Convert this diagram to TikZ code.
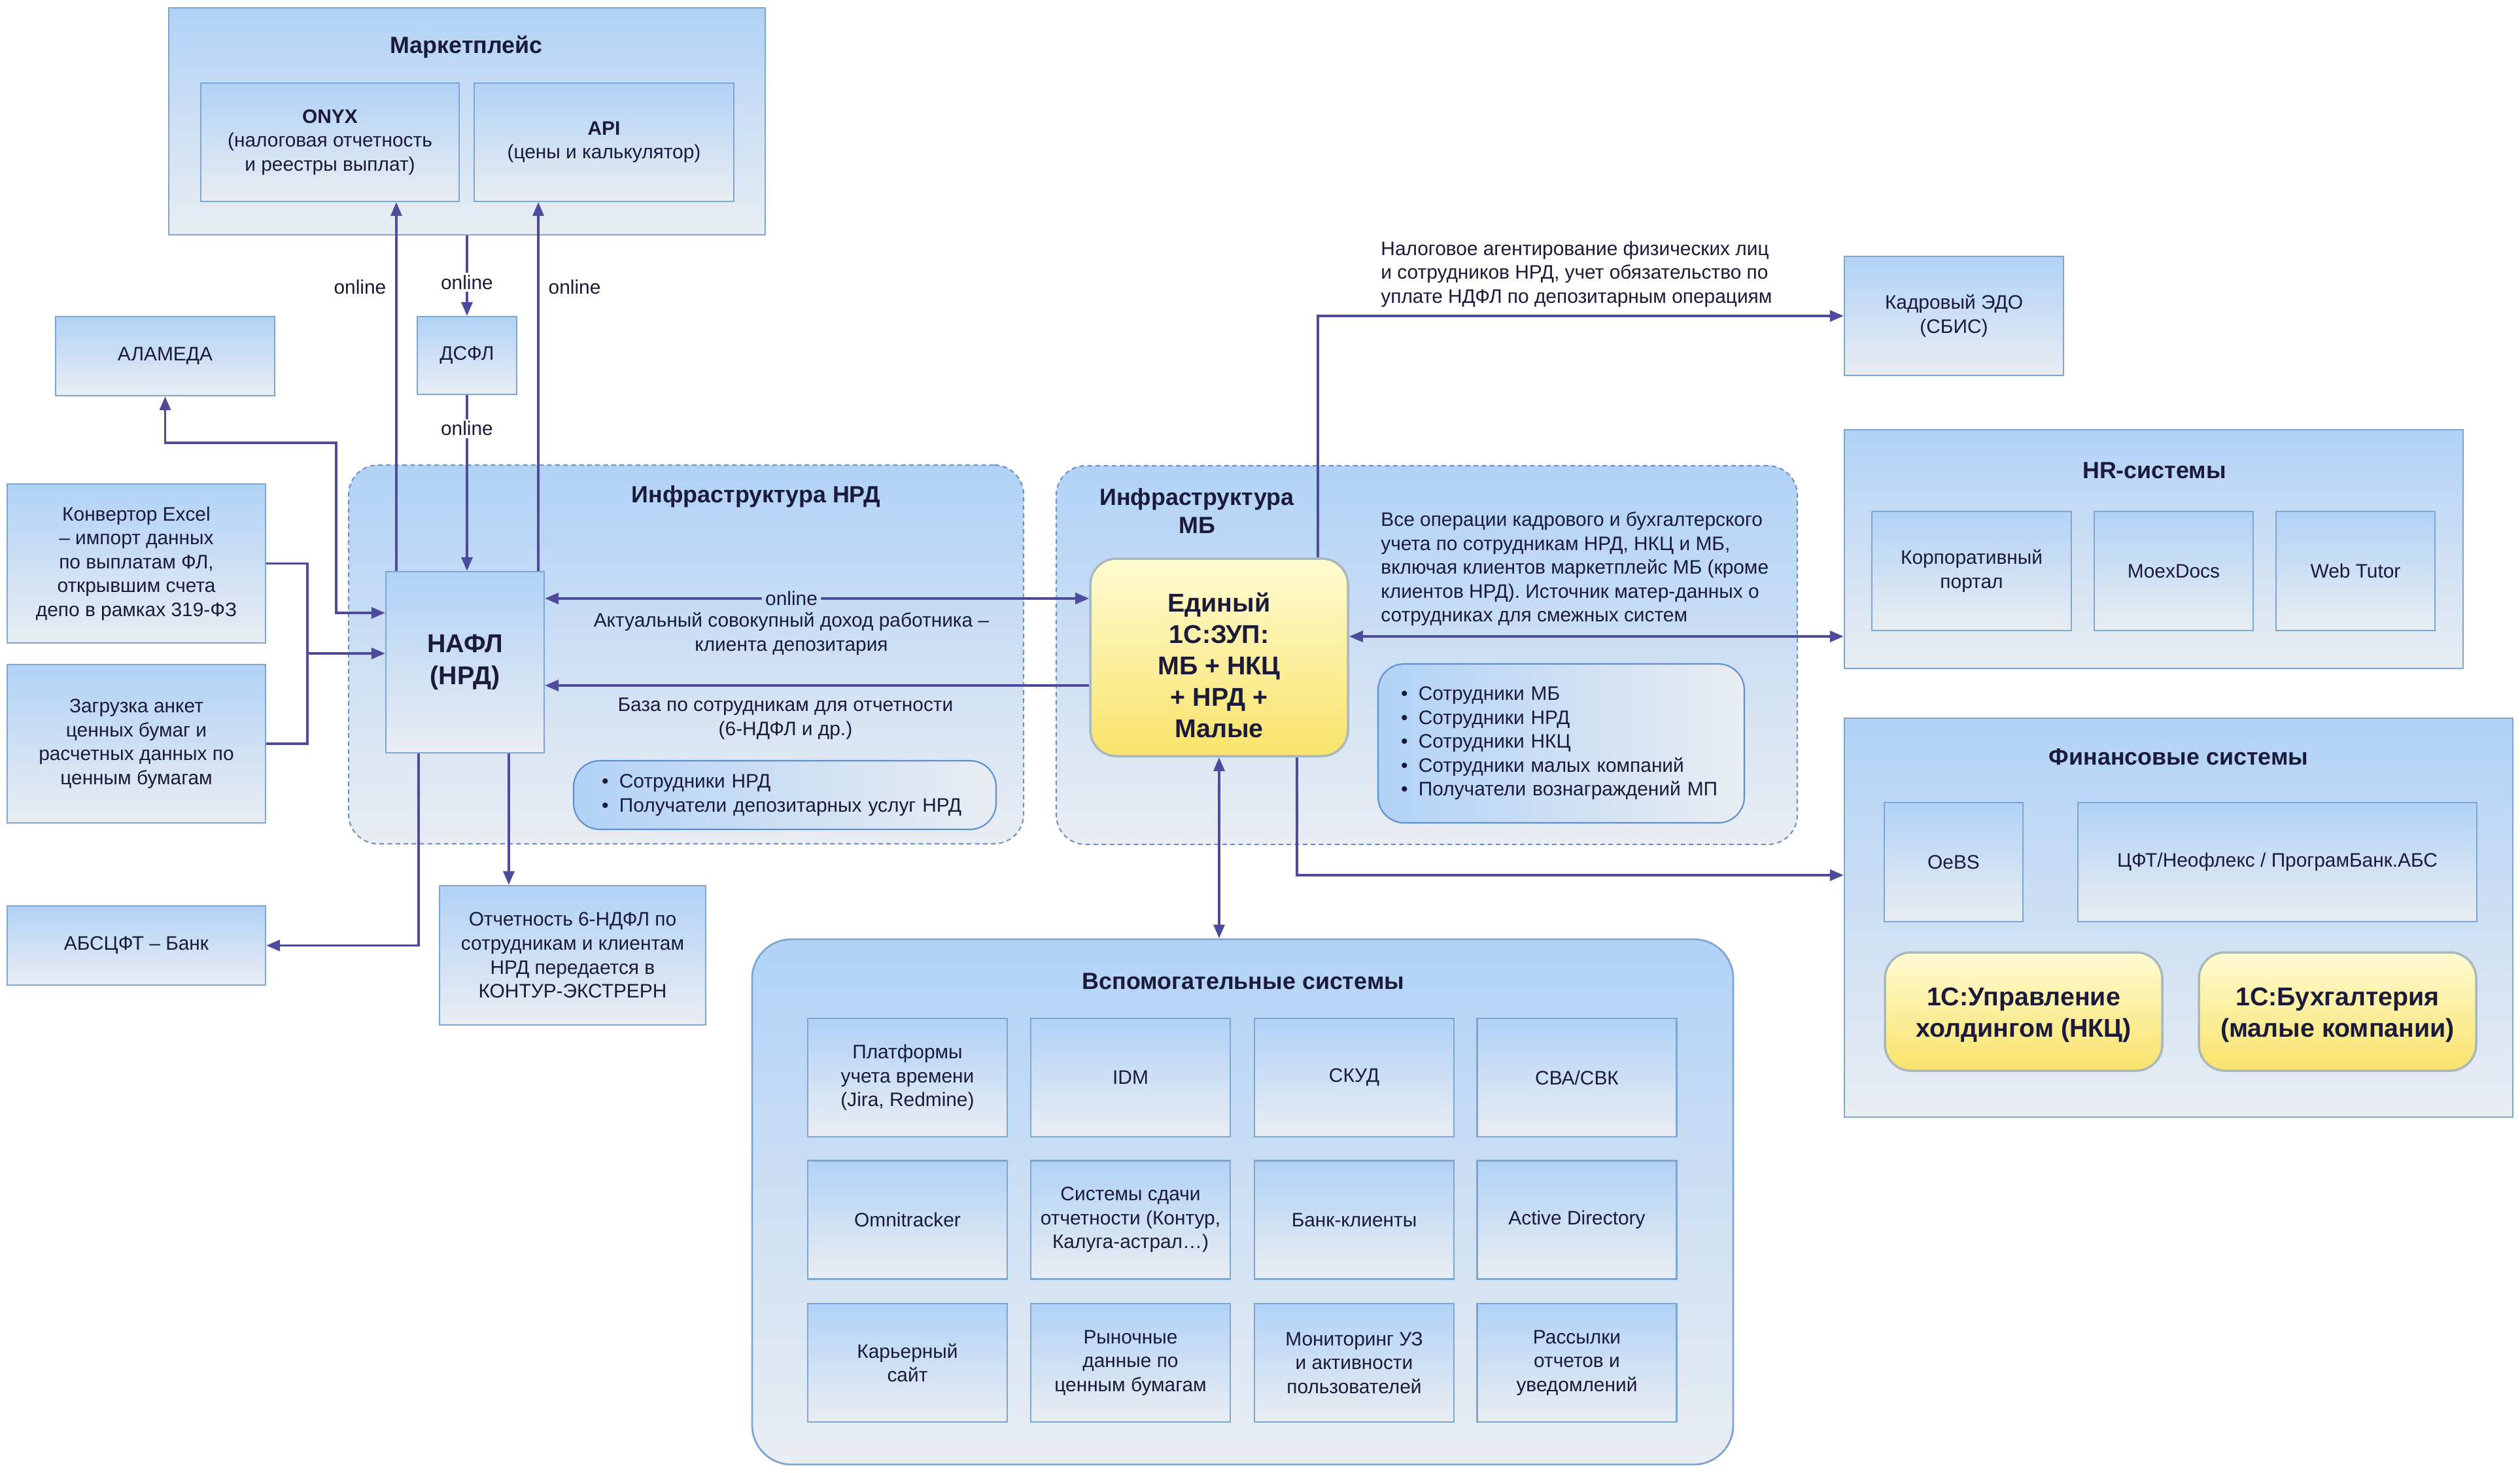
\documentclass[tikz,border=0pt]{standalone}
\usepackage{fontspec}
\setmainfont{Liberation Sans}
\usetikzlibrary{arrows.meta, positioning, calc}
\usepackage{xcolor}
\definecolor{boxtop}{RGB}{177,210,246}
\definecolor{boxbottom}{RGB}{233,237,242}
\definecolor{boxborder}{RGB}{126,166,211}
\definecolor{infraborder}{RGB}{109,147,192}
\definecolor{linkcolor}{RGB}{78,74,156}
\definecolor{textcolor}{RGB}{27,26,58}
\definecolor{zuptop}{RGB}{255,251,210}
\definecolor{zupbottom}{RGB}{248,227,106}
\definecolor{zupborder}{RGB}{169,184,189}
\definecolor{listborder}{RGB}{94,143,208}
\definecolor{onlinebg}{RGB}{197,220,245}

\begin{document}
\begin{tikzpicture}[
  % Node styles
  sysbox/.style={
    rectangle,
    draw=boxborder,
    line width=0.6pt,
    top color=boxtop,
    bottom color=boxbottom,
    align=center,
    text=textcolor,
    font=\fontsize{8.5}{10.4}\selectfont,
    inner sep=2pt
  },
  groupbox/.style={sysbox},
  infrabox/.style={
    rectangle,
    rounded corners=0.45cm,
    draw=infraborder,
    line width=0.6pt,
    dash pattern=on 2pt off 1.5pt,
    top color=boxtop,
    bottom color=boxbottom
  },
  auxbox/.style={
    rectangle,
    rounded corners=0.6cm,
    draw=boxborder,
    line width=0.8pt,
    top color=boxtop,
    bottom color=boxbottom
  },
  zupbox/.style={
    rectangle,
    rounded corners=0.4cm,
    draw=zupborder,
    line width=1pt,
    top color=zuptop,
    bottom color=zupbottom,
    align=center,
    text=textcolor,
    font=\fontsize{11.2}{13.7}\selectfont\bfseries
  },
  zuptext/.style={
    align=center,
    text=textcolor,
    font=\fontsize{11.2}{13.7}\selectfont\bfseries
  },
  listbox/.style={
    rectangle,
    rounded corners=0.4cm,
    draw=listborder,
    line width=0.6pt,
    left color=boxtop,
    right color=boxbottom,
    align=left,
    text=textcolor,
    font=\fontsize{8.5}{10.4}\selectfont
  },
  grouptitle/.style={
    align=center,
    text=textcolor,
    font=\fontsize{10.2}{12.4}\selectfont\bfseries
  },
  note/.style={
    align=center,
    text=textcolor,
    font=\fontsize{8.5}{10.4}\selectfont
  },
  online/.style={note, fill=white, inner sep=1pt},
  onlinetag/.style={note, fill=onlinebg, rounded corners=0.1cm, inner sep=1.5pt},
  arrow/.style={
    -{Triangle[length=6pt, width=4.8pt]},
    line width=1.1pt,
    draw=linkcolor
  },
  twoway/.style={
    {Triangle[length=6pt, width=4.8pt]}-{Triangle[length=6pt, width=4.8pt]},
    line width=1.1pt,
    draw=linkcolor
  },
  plainlink/.style={
    line width=1.1pt,
    draw=linkcolor
  }
]

\fill[white] (0,0) rectangle (38.53,-22.51);
\useasboundingbox (0,0) rectangle (38.53,-22.51);

% ===== CONTAINERS =====
\node[groupbox, minimum width=9.12cm, minimum height=3.47cm] (market) at (7.14,-1.855) {};
\node[infrabox, minimum width=10.32cm, minimum height=5.79cm] (nrd) at (10.49,-10.005) {};
\node[infrabox, minimum width=11.33cm, minimum height=5.79cm] (mb) at (21.815,-10.015) {};
\node[groupbox, minimum width=9.46cm, minimum height=3.65cm] (hr) at (32.93,-8.395) {};
\node[groupbox, minimum width=10.22cm, minimum height=6.10cm] (fin) at (33.31,-14.03) {};
\node[auxbox, minimum width=15.0cm, minimum height=8.03cm] (aux) at (19.0,-18.375) {};

% ===== MARKETPLACE =====
\node[grouptitle] (market-title) at (7.13,-0.72) {Маркетплейс};
\node[sysbox, minimum width=3.95cm, minimum height=1.81cm] (onyx) at (5.045,-2.175) {\textbf{ONYX}\\(налоговая отчетность\\и реестры выплат)};
\node[sysbox, minimum width=3.97cm, minimum height=1.81cm] (api) at (9.235,-2.175) {\textbf{API}\\(цены и калькулятор)};

\node[sysbox, minimum width=1.52cm, minimum height=1.19cm] (dsfl) at (7.14,-5.435) {ДСФЛ};

% ===== LEFT SOURCES =====
\node[sysbox, minimum width=3.35cm, minimum height=1.21cm] (alameda) at (2.525,-5.445) {АЛАМЕДА};
\node[sysbox, minimum width=3.95cm, minimum height=2.43cm] (conv) at (2.085,-8.615) {Конвертор Excel\\– импорт данных\\по выплатам ФЛ,\\открывшим счета\\депо в рамках 319-ФЗ};
\node[sysbox, minimum width=3.95cm, minimum height=2.42cm] (load) at (2.085,-11.37) {Загрузка анкет\\ценных бумаг и\\расчетных данных по\\ценным бумагам};
\node[sysbox, minimum width=3.95cm, minimum height=1.21cm] (absc) at (2.085,-14.455) {АБСЦФТ – Банк};

% ===== INFRASTRUCTURE NRD =====
\node[grouptitle] (nrd-title) at (11.56,-7.59) {Инфраструктура НРД};
\node[sysbox, minimum width=2.42cm, minimum height=2.77cm, font=\fontsize{11.2}{13.9}\selectfont\bfseries] (nafl) at (7.11,-10.125) {НАФЛ\\(НРД)};
\node[listbox, minimum width=6.46cm, minimum height=1.05cm, text width=5.6cm] (nrd-list) at (12.0,-12.155) {\textbullet\hspace{0.55em}Сотрудники НРД\\\textbullet\hspace{0.55em}Получатели депозитарных услуг НРД};
\node[sysbox, minimum width=4.07cm, minimum height=2.13cm] (report) at (8.755,-14.605) {Отчетность 6-НДФЛ по\\сотрудникам и клиентам\\НРД передается в\\КОНТУР-ЭКСТРЕРН};

% ===== INFRASTRUCTURE MB =====
\node[grouptitle] (mb-title) at (18.30,-7.81) {Инфраструктура\\МБ};
\node[zupbox, minimum width=3.94cm, minimum height=3.02cm] (zup) at (18.64,-10.05) {};
\node[zuptext] (zup-label) at (18.64,-10.17) {Единый\\1С:ЗУП:\\МБ + НКЦ\\+ НРД +\\Малые};
\node[note, anchor=west, align=left] (mb-note) at (20.99,-8.70) {Все операции кадрового и бухгалтерского\\учета по сотрудникам НРД, НКЦ и МБ,\\включая клиентов маркетплейс МБ (кроме\\клиентов НРД). Источник матер-данных о\\сотрудниках для смежных систем};
\node[listbox, minimum width=5.60cm, minimum height=2.43cm, text width=4.9cm] (mb-list) at (23.87,-11.365) {\textbullet\hspace{0.55em}Сотрудники МБ\\\textbullet\hspace{0.55em}Сотрудники НРД\\\textbullet\hspace{0.55em}Сотрудники НКЦ\\\textbullet\hspace{0.55em}Сотрудники малых компаний\\\textbullet\hspace{0.55em}Получатели вознаграждений МП};
\node[note, anchor=west, align=left] (tax-note) at (20.99,-4.19) {Налоговое агентирование физических лиц\\и сотрудников НРД, учет обязательство по\\уплате НДФЛ по депозитарным операциям};

% ===== HR =====
\node[sysbox, minimum width=3.35cm, minimum height=1.82cm] (edo) at (29.875,-4.83) {Кадровый ЭДО\\(СБИС)};
\node[grouptitle] (hr-title) at (32.94,-7.19) {HR-системы};
\node[sysbox, minimum width=3.05cm, minimum height=1.82cm] (portal) at (30.145,-8.73) {Корпоративный\\портал};
\node[sysbox, minimum width=2.43cm, minimum height=1.82cm] (moexdocs) at (33.235,-8.73) {MoexDocs};
\node[sysbox, minimum width=2.43cm, minimum height=1.82cm] (webtutor) at (36.015,-8.73) {Web Tutor};

% ===== FINANCE =====
\node[grouptitle] (fin-title) at (33.31,-11.57) {Финансовые системы};
\node[sysbox, minimum width=2.12cm, minimum height=1.82cm] (oebs) at (29.87,-13.18) {OeBS};
\node[sysbox, minimum width=6.10cm, minimum height=1.82cm] (cft) at (34.82,-13.18) {ЦФТ/Неофлекс / ПрограмБанк.АБС};
\node[zupbox, minimum width=4.24cm, minimum height=1.81cm] (holding) at (30.94,-15.465) {};
\node[zuptext] (holding-label) at (30.94,-15.52) {1С:Управление\\холдингом (НКЦ)};
\node[zupbox, minimum width=4.24cm, minimum height=1.81cm] (buh) at (35.74,-15.465) {};
\node[zuptext] (buh-label) at (35.74,-15.52) {1С:Бухгалтерия\\(малые компании)};

% ===== AUXILIARY =====
\node[grouptitle] (aux-title) at (19.01,-15.00) {Вспомогательные системы};
\node[sysbox, minimum width=3.05cm, minimum height=1.81cm] (timetrack) at (13.875,-16.475) {Платформы\\учета времени\\(Jira, Redmine)};
\node[sysbox, minimum width=3.05cm, minimum height=1.81cm] (idm) at (17.285,-16.475) {IDM};
\node[sysbox, minimum width=3.05cm, minimum height=1.81cm] (skud) at (20.705,-16.475) {СКУД};
\node[sysbox, minimum width=3.05cm, minimum height=1.81cm] (sva) at (24.11,-16.475) {СВА/СВК};
\node[sysbox, minimum width=3.05cm, minimum height=1.81cm] (omni) at (13.875,-18.65) {Omnitracker};
\node[sysbox, minimum width=3.05cm, minimum height=1.81cm] (filing) at (17.285,-18.65) {Системы сдачи\\отчетности (Контур,\\Калуга-астрал…)};
\node[sysbox, minimum width=3.05cm, minimum height=1.81cm] (bankcl) at (20.705,-18.65) {Банк-клиенты};
\node[sysbox, minimum width=3.05cm, minimum height=1.81cm] (ad) at (24.11,-18.65) {Active Directory};
\node[sysbox, minimum width=3.05cm, minimum height=1.81cm] (career) at (13.875,-20.835) {Карьерный\\сайт};
\node[sysbox, minimum width=3.05cm, minimum height=1.81cm] (market-data) at (17.285,-20.835) {Рыночные\\данные по\\ценным бумагам};
\node[sysbox, minimum width=3.05cm, minimum height=1.81cm] (monitor) at (20.705,-20.835) {Мониторинг УЗ\\и активности\\пользователей};
\node[sysbox, minimum width=3.05cm, minimum height=1.81cm] (mailing) at (24.11,-20.835) {Рассылки\\отчетов и\\уведомлений};

% ===== ARROWS: Marketplace and DSFL =====
\coordinate (nafl-onyx) at ([xshift=0.17cm]nafl.north west);
\coordinate (nafl-api) at ([xshift=-0.10cm]nafl.north east);
\draw[arrow] (nafl-onyx) -- node[note, pos=0.77, left=0.02cm] {online} (nafl-onyx |- onyx.south);
\draw[arrow] (nafl-api) -- node[note, pos=0.77, right=0.02cm] {online} (nafl-api |- api.south);
\draw[arrow] (market.south -| dsfl.north) -- node[online, pos=0.58] {online} (dsfl.north);
\draw[arrow] (dsfl.south) -- node[online, pos=0.19] {online} (dsfl.south |- nafl.north);

% ===== ARROWS: left sources =====
\draw[twoway] (alameda.south) |- (5.14,-6.77) |- ([yshift=0.755cm]nafl.west);
\coordinate (merge) at (4.70,-9.99);
\draw[plainlink] (conv.east) -| (merge);
\draw[plainlink] (load.east) -| (merge);
\draw[arrow] (merge) -- (merge -| nafl.west);

% ===== ARROWS: NAFL outputs =====
\coordinate (nafl-absc) at ([xshift=0.51cm]nafl.south west);
\coordinate (nafl-report) at ([xshift=1.89cm]nafl.south west);
\draw[arrow] (nafl-absc) |- (absc.east);
\draw[arrow] (nafl-report) -- (nafl-report |- report.north);

% ===== ARROWS: NAFL <-> 1C:ZUP =====
\coordinate (online-a) at ([yshift=0.975cm]nafl.east);
\coordinate (base-a) at ([yshift=-0.355cm]nafl.east);
\draw[twoway] (online-a) -- node[onlinetag, pos=0.453] {online} (online-a -| zup.west);
\node[note] (income-note) at (12.10,-9.69) {Актуальный совокупный доход работника –\\клиента депозитария};
\draw[arrow] (base-a -| zup.west) -- (base-a);
\node[note] (base-note) at (12.01,-10.99) {База по сотрудникам для отчетности\\(6-НДФЛ и др.)};

% ===== ARROWS: 1C:ZUP to other systems =====
\coordinate (zup-edo) at ([xshift=-0.48cm]zup.north east);
\coordinate (zup-hr) at ([yshift=0.32cm]zup.east);
\coordinate (zup-fin) at ([xshift=-0.80cm]zup.south east);
\draw[arrow] (zup-edo) |- (edo.west);
\draw[twoway] (zup-hr) -- (zup-hr -| hr.west);
\draw[arrow] (zup-fin) |- ([yshift=0.65cm]fin.west);
\draw[twoway] (zup.south) -- (zup.south |- aux.north);

\end{tikzpicture}
\end{document}
